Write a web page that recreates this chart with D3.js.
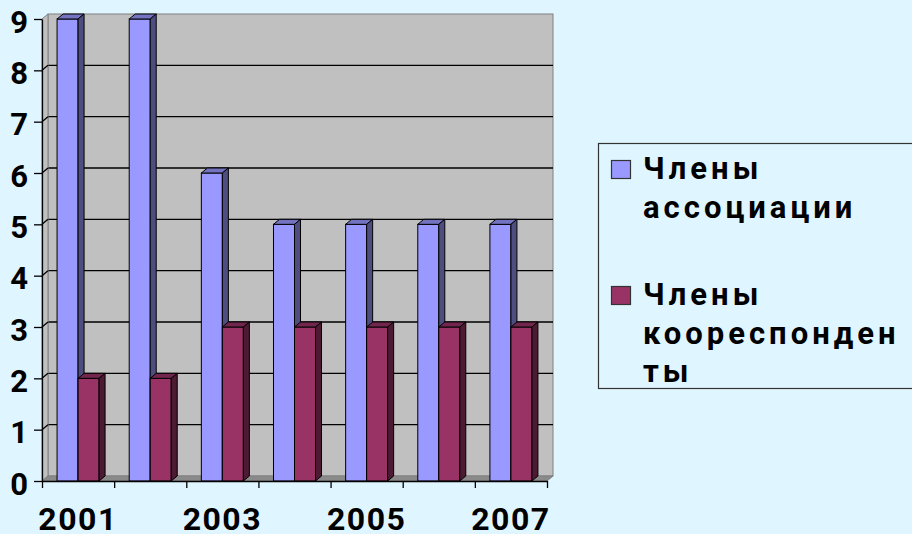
<!DOCTYPE html>
<html>
<head>
<meta charset="utf-8">
<title>members</title>
<script src="https://cdn.jsdelivr.net/npm/d3@7"></script>
<style>
  body { margin: 0; background: #dff5ff; }
  svg { display: block; font-family: Roboto, "Noto Sans", sans-serif; font-weight: 700; }
</style>
</head>
<body>
<script>
// data
var years = ["2001", "2002", "2003", "2004", "2005", "2006", "2007"];
var members = [9, 9, 6, 5, 5, 5, 5];          // Члены ассоциации
var correspondents = [2, 2, 3, 3, 3, 3, 3];   // Члены коореспонденты
var yTicks = [0, 1, 2, 3, 4, 5, 6, 7, 8, 9];
var xLabels = ["2001", "2003", "2005", "2007"];
var seriesNames = [["Члены", "ассоциации"], ["Члены", "коореспонден", "ты"]];

var width = 912, height = 534;
var dx = 6, dy = -5;   // depth of the 3d box
var pLeft = 42, pRight = 547, pBottom = 481, pTop = 19;

var svg = d3.select("body").append("svg")
  .attr("width", width).attr("height", height);

var x = d3.scaleBand().domain(years).range([pLeft, pRight]);
var xs = d3.scaleBand().domain(["a", "b"]).range([0, x.bandwidth()]).paddingOuter(0.717);
var xl = d3.scaleLinear().domain([0, years.length]).range([pLeft, pRight]);
var y = d3.scaleLinear().domain([0, 9]).range([pBottom, pTop]);

// back wall
svg.append("rect")
  .attr("x", pLeft + dx).attr("y", pTop + dy)
  .attr("width", pRight - pLeft).attr("height", pBottom - pTop)
  .attr("fill", "#c0c0c0").attr("stroke", "#808080");

// gridlines on back wall and left side wall
var grid = yTicks.filter(function (d) { return d > 0 && d < 9; });
svg.selectAll(".grid").data(grid).enter().append("line")
  .attr("x1", pLeft + dx).attr("x2", pRight + dx)
  .attr("y1", function (d) { return y(d) + dy; })
  .attr("y2", function (d) { return y(d) + dy; })
  .attr("stroke", "#000").attr("stroke-width", 1.3);

svg.append("polygon")
  .attr("points", [[pLeft, pBottom], [pLeft, pTop], [pLeft + dx, pTop + dy], [pLeft + dx, pBottom + dy]].join(" "))
  .attr("fill", "#c0c0c0").attr("stroke", "#808080");
svg.selectAll(".sgrid").data(grid).enter().append("line")
  .attr("x1", pLeft).attr("x2", pLeft + dx)
  .attr("y1", function (d) { return y(d); })
  .attr("y2", function (d) { return y(d) + dy; })
  .attr("stroke", "#000").attr("stroke-width", 1.3);

// floor
svg.append("polygon")
  .attr("points", [[pLeft, pBottom], [pRight, pBottom], [pRight + dx, pBottom + dy], [pLeft + dx, pBottom + dy]].join(" "))
  .attr("fill", "#8a8a8a").attr("stroke", "#808080");

// bars
var colors = {
  a: { front: "#9999ff", top: "#7373c0", side: "#4d4d80" },
  b: { front: "#993366", top: "#73264d", side: "#4d1a33" }
};
var bars = [];
years.forEach(function (yr, i) {
  bars.push({ year: yr, key: "a", value: members[i] });
  bars.push({ year: yr, key: "b", value: correspondents[i] });
});

var g = svg.selectAll(".bar").data(bars).enter().append("g").attr("class", "bar");
g.each(function (d) {
  var el = d3.select(this);
  var x0 = x(d.year) + xs(d.key), x1 = x0 + xs.bandwidth();
  var yv = y(d.value), y0 = y(0);
  var c = colors[d.key];
  el.append("rect")
    .attr("x", x0).attr("y", yv).attr("width", x1 - x0).attr("height", y0 - yv)
    .attr("fill", c.front).attr("stroke", "#000");
  el.append("polygon")
    .attr("points", [[x0, yv], [x0 + dx, yv + dy], [x1 + dx, yv + dy], [x1, yv]].join(" "))
    .attr("fill", c.top).attr("stroke", "#000");
  el.append("polygon")
    .attr("points", [[x1, yv], [x1 + dx, yv + dy], [x1 + dx, y0 + dy], [x1, y0]].join(" "))
    .attr("fill", c.side).attr("stroke", "#000");
});

// y axis
var yAxis = svg.append("g")
  .attr("transform", "translate(" + pLeft + ",0)")
  .call(d3.axisLeft(y).tickValues(yTicks).tickSize(8).tickPadding(6).tickSizeOuter(0));
yAxis.select(".domain").attr("stroke", "#000").attr("stroke-width", 1.3);
yAxis.selectAll(".tick line").attr("stroke", "#000").attr("stroke-width", 1.3);
yAxis.selectAll(".tick text")
  .attr("dy", "0.42em")
  .style("font-family", "Roboto, sans-serif").style("font-weight", 700)
  .style("font-size", "31px").attr("fill", "#000");

// x axis: ticks between categories, labels on every other year
var xTickAxis = svg.append("g")
  .attr("transform", "translate(0," + pBottom + ")")
  .call(d3.axisBottom(xl).ticks(years.length).tickFormat("").tickSize(7).tickSizeOuter(0));
xTickAxis.select(".domain").attr("stroke", "#000").attr("stroke-width", 1.3);
xTickAxis.selectAll(".tick line").attr("stroke", "#000").attr("stroke-width", 1.3);

var xLabelAxis = svg.append("g")
  .attr("transform", "translate(0," + pBottom + ")")
  .call(d3.axisBottom(x).tickValues(xLabels).tickSize(0).tickPadding(26));
xLabelAxis.select(".domain").remove();
xLabelAxis.selectAll(".tick text")
  .style("font-family", "Roboto, sans-serif").style("font-weight", 700)
  .style("font-size", "32px").style("letter-spacing", "1.5px").attr("fill", "#000");

// legend
var legend = svg.append("g");
legend.append("rect")
  .attr("x", 598.5).attr("y", 143.5).attr("width", 330).attr("height", 245)
  .attr("fill", "none").attr("stroke", "#333").attr("stroke-width", 1.2);

var lineH = 38.5;
var entryY = [179, 305];
seriesNames.forEach(function (lines, i) {
  var key = i === 0 ? "a" : "b";
  legend.append("rect")
    .attr("x", 611.5).attr("y", entryY[i] - 18.5).attr("width", 19).attr("height", 18)
    .attr("fill", colors[key].front).attr("stroke", "#333").attr("stroke-width", 1.2);
  legend.append("text")
    .attr("x", 643).attr("y", entryY[i])
    .style("font-size", "31px").style("letter-spacing", "4px").attr("fill", "#000")
    .selectAll("tspan").data(lines).enter().append("tspan")
    .attr("x", 643)
    .attr("y", function (d, j) { return entryY[i] + j * lineH; })
    .text(function (d) { return d; });
});
</script>
</body>
</html>
